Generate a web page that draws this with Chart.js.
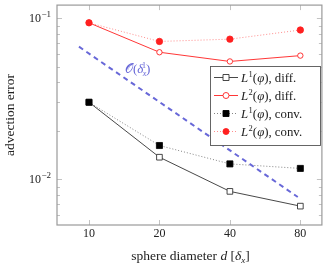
<!DOCTYPE html>
<html>
<head>
<meta charset="utf-8">
<script src="https://cdn.jsdelivr.net/npm/chart.js@4"></script>
<style>
  html, body { margin: 0; padding: 0; background: #fff; }
  #wrap { width: 327px; height: 267px; }
</style>
</head>
<body>
<div id="wrap"><canvas id="errChart" width="327" height="267"></canvas></div>
<script>
"use strict";

/** DATA */
const diameters = [10, 20, 40, 80];
const l1Diff = [0.0301, 0.0137, 0.0084, 0.0068];
const l2Diff = [0.0939, 0.0616, 0.0540, 0.0587];
const l1Conv = [0.0301, 0.0162, 0.01245, 0.01167];
const l2Conv = [0.0939, 0.0719, 0.0743, 0.0847];
const refD = [9.06, 78];
const refErr = [0.0667, 0.00775];
const xTicks = [10, 20, 40, 80];
const yMajor = [0.01, 0.1];
const yMinor = [0.006, 0.007, 0.008, 0.009, 0.02, 0.03, 0.04, 0.05, 0.06, 0.07, 0.08, 0.09];

const SERIF = '"Liberation Serif", "DejaVu Serif", serif';
const RED = '#ff2020';
const BLUE = '#6868d8';

const toPoints = (xs, ys) => xs.map((x, i) => ({ x: x, y: ys[i] }));

// Draw a run of text pieces: [text, fontSize, italic, dy, extraAdvance]
const drawRich = (ctx, pieces, x, y, color) => {
    ctx.fillStyle = color;
    ctx.textBaseline = 'alphabetic';
    ctx.textAlign = 'left';
    let cx = x;
    pieces.forEach(p => {
        ctx.font = `${ p[2] ? 'italic ' : '' }${ p[1] }px ${ SERIF }`;
        ctx.fillText(p[0], cx, y + (p[3] || 0));
        cx += ctx.measureText(p[0]).width + (p[4] || 0);
    });
    return cx - x;
};

const richWidth = (ctx, pieces) => {
    let w = 0;
    pieces.forEach(p => {
        ctx.font = `${ p[2] ? 'italic ' : '' }${ p[1] }px ${ SERIF }`;
        w += ctx.measureText(p[0]).width + (p[4] || 0);
    });
    return w;
};

/** AXES, LABELS AND LEGEND */
const framePlugin = {
    id: 'frame',
    beforeDatasetsDraw(chart) {
        const { ctx, chartArea: a, scales: { x, y } } = chart;
        ctx.save();

        // tick marks (inside, on both sides)
        ctx.strokeStyle = '#b4b4b4';
        ctx.lineWidth = 0.8;
        ctx.beginPath();
        xTicks.forEach(v => {
            const px = Math.round(x.getPixelForValue(v)) + 0.5;
            ctx.moveTo(px, a.bottom); ctx.lineTo(px, a.bottom - 5);
            ctx.moveTo(px, a.top); ctx.lineTo(px, a.top + 5);
        });
        yMajor.forEach(v => {
            const py = Math.round(y.getPixelForValue(v)) + 0.5;
            ctx.moveTo(a.left, py); ctx.lineTo(a.left + 5, py);
            ctx.moveTo(a.right, py); ctx.lineTo(a.right - 5, py);
        });
        yMinor.forEach(v => {
            const py = Math.round(y.getPixelForValue(v)) + 0.5;
            ctx.moveTo(a.left, py); ctx.lineTo(a.left + 3, py);
            ctx.moveTo(a.right, py); ctx.lineTo(a.right - 3, py);
        });
        ctx.stroke();

        // frame
        ctx.strokeStyle = '#9a9a9a';
        ctx.lineWidth = 1.2;
        ctx.strokeRect(a.left, a.top, a.right - a.left, a.bottom - a.top);
        ctx.restore();
    },
    afterDatasetsDraw(chart) {
        const { ctx, chartArea: a, scales: { x, y } } = chart;
        ctx.save();

        // x tick labels
        ctx.fillStyle = '#222';
        ctx.font = `12px ${ SERIF }`;
        ctx.textAlign = 'center';
        ctx.textBaseline = 'middle';
        xTicks.forEach(v => ctx.fillText(String(v), x.getPixelForValue(v), a.bottom + 9));

        // y tick labels 10^-1, 10^-2
        yMajor.forEach(v => {
            const exp = Math.round(Math.log10(v));
            const pieces = [['10', 12, false, 0, 0.5], ['\u2212' + Math.abs(exp), 9, false, -5]];
            const w = richWidth(ctx, pieces);
            drawRich(ctx, pieces, a.left - 6 - w, y.getPixelForValue(v) + 4, '#222');
        });

        // axis titles
        const xt = [['sphere diameter ', 13.5, false, 0], ['d', 13.5, true, 0], [' [', 13.5, false, 0],
                    ['\u03b4', 13.5, true, 0], ['x', 9, true, 2.5], [']', 13.5, false, 0]];
        const xw = richWidth(ctx, xt);
        drawRich(ctx, xt, 190.5 - xw / 2, 260, '#222');

        ctx.save();
        ctx.translate(14, 115);
        ctx.rotate(-Math.PI / 2);
        ctx.font = `13.5px ${ SERIF }`;
        ctx.fillStyle = '#222';
        ctx.textAlign = 'center';
        ctx.textBaseline = 'alphabetic';
        ctx.fillText('advection error', 0, 0);
        ctx.restore();

        // reference slope label
        drawRich(ctx, [['\ud835\udcaa', 13, false, 0], ['(', 13, false, 0], ['\u03b4', 13, true, 0, -0.5],
                       ['x', 8, true, 2.5, -4.5], ['1', 8, false, -5.5], [')', 13, false, 0]], 125, 73, BLUE);

        // legend box
        const lx = 210.5, ly = 66.5, lw = 110, lh = 79;
        ctx.fillStyle = '#fff';
        ctx.fillRect(lx, ly, lw, lh);
        ctx.strokeStyle = '#555';
        ctx.lineWidth = 0.9;
        ctx.strokeRect(lx, ly, lw, lh);

        const rows = [
            { label: 'diff.', n: '1', color: '#333', dash: [], marker: 'rect', fill: '#fff' },
            { label: 'diff.', n: '2', color: RED, dash: [], marker: 'circle', fill: '#fff' },
            { label: 'conv.', n: '1', color: '#777', dash: [1, 2], marker: 'rect', fill: '#000', mcol: '#000' },
            { label: 'conv.', n: '2', color: '#ff8080', dash: [1, 2], marker: 'circle', fill: RED, mcol: RED }
        ];
        rows.forEach((r, i) => {
            const ry = 77.5 + i * 18;
            ctx.strokeStyle = r.color;
            ctx.lineWidth = 0.9;
            ctx.setLineDash(r.dash);
            ctx.beginPath();
            ctx.moveTo(214, ry); ctx.lineTo(238, ry);
            ctx.stroke();
            ctx.setLineDash([]);
            ctx.fillStyle = r.fill;
            ctx.strokeStyle = r.mcol || r.color;
            ctx.beginPath();
            if (r.marker === 'rect') ctx.rect(223, ry - 3, 6, 6);
            else ctx.arc(226, ry, 3, 0, Math.PI * 2);
            ctx.fill();
            ctx.stroke();
            drawRich(ctx, [['L', 12.8, true, 0, 0.5], [r.n, 8.5, false, -5.5], ['(', 12.8, false, 0], ['\u03c6', 12.8, true, 0],
                           ['), ' + r.label, 12.8, false, 0]], 241, ry + 4.5, '#222');
        });

        ctx.restore();
    }
};

/** INITIALIZE CHART */
const errChart = new Chart(document.getElementById('errChart').getContext('2d'), {
    type: 'line',
    data: {
        datasets: [{
            label: 'O(dx)',
            data: toPoints(refD, refErr),
            borderColor: BLUE,
            borderWidth: 2,
            borderDash: [5, 4],
            pointRadius: 0
        }, {
            label: 'L1 conv',
            data: toPoints(diameters, l1Conv),
            borderColor: '#777',
            borderWidth: 0.9,
            borderDash: [1, 2],
            pointStyle: 'rect',
            pointRadius: 4.3,
            pointBackgroundColor: '#000',
            pointBorderColor: '#000',
            pointBorderWidth: 0.8
        }, {
            label: 'L2 conv',
            data: toPoints(diameters, l2Conv),
            borderColor: '#ff8080',
            borderWidth: 0.9,
            borderDash: [1, 2],
            pointStyle: 'circle',
            pointRadius: 3.2,
            pointBackgroundColor: RED,
            pointBorderColor: RED,
            pointBorderWidth: 0.8
        }, {
            label: 'L1 diff',
            data: toPoints(diameters, l1Diff),
            borderColor: '#333',
            borderWidth: 0.9,
            pointStyle: 'rect',
            pointRadius: 4,
            pointBackgroundColor: '#fff',
            pointBorderColor: '#333',
            pointBorderWidth: 0.9
        }, {
            label: 'L2 diff',
            data: toPoints(diameters, l2Diff),
            borderColor: RED,
            borderWidth: 0.9,
            pointStyle: 'circle',
            pointRadius: 2.7,
            pointBackgroundColor: '#fff',
            pointBorderColor: RED,
            pointBorderWidth: 0.9
        }]
    },
    options: {
        responsive: false,
        animation: false,
        layout: { padding: { left: 57, top: 1, right: 1, bottom: 42 } },
        plugins: { legend: { display: false }, tooltip: { enabled: false } },
        scales: {
            x: { type: 'logarithmic', min: 7.3, max: 98.9, display: false },
            y: { type: 'logarithmic', min: 0.00519, max: 0.121, display: false }
        }
    },
    plugins: [framePlugin]
});
</script>
</body>
</html>
